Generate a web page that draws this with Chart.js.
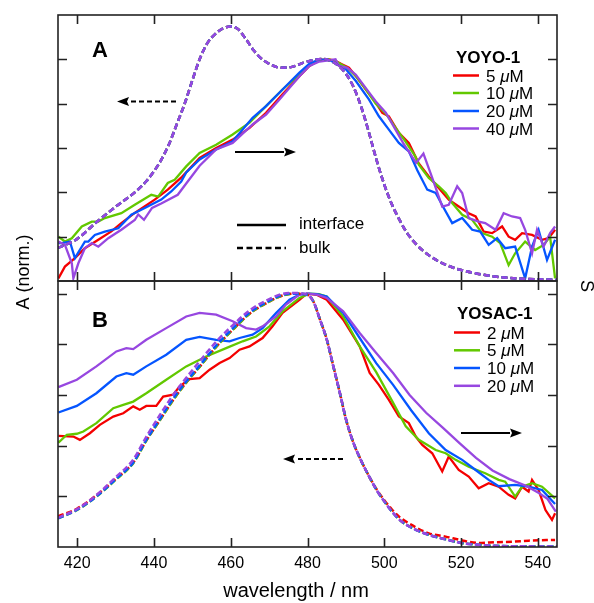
<!DOCTYPE html>
<html>
<head>
<meta charset="utf-8">
<script src="https://cdn.jsdelivr.net/npm/chart.js@4.4.0/dist/chart.umd.min.js"></script>
<style>
html, body { margin: 0; padding: 0; background: #fff; }
#wrap { position: relative; width: 594px; height: 603px; }
#wrap canvas { position: absolute; left: 0; top: 0; }
</style>
</head>
<body>
<div id="wrap">
  <canvas id="panelA" width="594" height="603"></canvas>
  <canvas id="panelB" width="594" height="603"></canvas>
</div>
<script>
// Interface (solid) vs bulk (dashed) normalised spectra, YOYO-1 (A) and YOSAC-1 (B)

const xTicks = [420, 440, 460, 480, 500, 520, 540];
const yTicks = [0.2, 0.4, 0.6, 0.8, 1.0];

const concA = ["5", "10", "20", "40"];
const concB = ["2", "5", "10", "20"];

// panel A, bulk absorbance (all four concentrations overlap)
const bulkA = [[415,0.149],[420,0.19],[425,0.265],[430,0.335],[435,0.40],[438,0.45],[440,0.495],[442,0.55],[444,0.62],[446,0.71],[448,0.80],[450,0.905],[452,1.005],[454,1.075],[456,1.115],[458,1.14],[460,1.148],[462,1.135],[464,1.09],[466,1.04],[468,1.003],[470,0.98],[473,0.962],[476,0.966],[479,0.985],[482,0.998],[484,1.002],[486,0.993],[488,0.972],[490,0.935],[492,0.875],[494,0.785],[496,0.67],[498,0.545],[500,0.435],[502,0.345],[504,0.275],[506,0.215],[508,0.172],[510,0.138],[514,0.09],[518,0.06],[524,0.034],[530,0.018],[536,0.01],[545,0.005]];

// panel A, interface spectra
const ifaceA5 = [[415.1,0.012],[416.8,0.065],[419.4,0.103],[422.0,0.148],[425.5,0.186],[428.9,0.224],[431.5,0.261],[435.0,0.307],[440.2,0.367],[443.6,0.412],[447.3,0.47],[451.9,0.555],[456.2,0.600],[460.5,0.638],[464.9,0.691],[469.2,0.759],[473.5,0.842],[477.9,0.924],[480.5,0.970],[483.1,0.997],[485.5,1.0],[487.0,0.995],[489.1,0.977],[490.8,0.962],[492.6,0.924],[495.2,0.864],[497.8,0.804],[499.5,0.759],[501.2,0.743],[503.8,0.668],[506.4,0.623],[509.0,0.53],[511.6,0.472],[514.2,0.419],[516.8,0.367],[519.4,0.336],[522.0,0.306],[523.8,0.291],[525.9,0.223],[528.1,0.216],[530.7,0.246],[532.4,0.200],[534.1,0.186],[535.9,0.216],[538.5,0.208],[541.1,0.186],[542.8,0.193],[544.5,0.231]];
const ifaceA10 = [[415.1,0.200],[416.8,0.178],[418.6,0.193],[421.2,0.246],[423.8,0.268],[425.5,0.268],[427.2,0.284],[431.5,0.306],[435.0,0.344],[439.3,0.389],[441.1,0.381],[443.6,0.442],[445.4,0.457],[448.4,0.517],[451.9,0.578],[456.2,0.615],[460.5,0.661],[464.9,0.714],[469.2,0.789],[473.5,0.864],[477.9,0.932],[480.5,0.975],[483.1,0.995],[485.5,1.0],[487.5,0.99],[490.0,0.965],[492.6,0.925],[495.2,0.865],[497.8,0.80],[500.4,0.755],[503.0,0.69],[505.5,0.63],[508.0,0.565],[509.0,0.525],[511.6,0.465],[514.2,0.427],[516.0,0.397],[517.7,0.352],[520.3,0.299],[522.9,0.276],[525.5,0.216],[528.1,0.200],[530.2,0.171],[532.4,0.072],[534.1,0.125],[536.7,0.178],[539.3,0.140],[541.5,0.163],[543.2,0.200],[544.5,0.012]];
const ifaceA20 = [[415.1,0.171],[416.0,0.171],[418.1,0.178],[419.4,0.103],[422.0,0.178],[422.9,0.178],[424.6,0.208],[427.2,0.223],[430.7,0.238],[434.1,0.299],[437.6,0.329],[441.9,0.367],[444.5,0.404],[447.1,0.449],[448.4,0.49],[451.9,0.548],[456.2,0.593],[460.5,0.630],[465.7,0.736],[469.2,0.789],[473.5,0.864],[477.9,0.940],[480.5,0.98],[483.0,1.0],[486.0,0.995],[488.0,0.975],[490.0,0.955],[492.6,0.902],[496.0,0.819],[498.6,0.743],[501.2,0.683],[503.8,0.623],[506.4,0.585],[508.6,0.50],[511.2,0.412],[513.4,0.397],[515.5,0.329],[517.7,0.261],[520.3,0.284],[522.9,0.231],[525.0,0.223],[527.2,0.163],[529.4,0.193],[531.5,0.148],[534.1,0.155],[536.7,0.012],[538.5,0.155],[540.2,0.231],[542.4,0.095],[544.5,0.186]];
const ifaceA40 = [[415.1,0.178],[416.8,0.163],[418.6,0.080],[419.0,0.012],[420.3,0.080],[422.0,0.148],[423.8,0.171],[425.5,0.155],[428.1,0.193],[431.5,0.231],[435.0,0.275],[435.9,0.300],[437.4,0.276],[439.5,0.33],[441.9,0.350],[446.2,0.389],[448.4,0.44],[451.9,0.52],[456.2,0.593],[460.5,0.623],[465.7,0.706],[469.2,0.751],[472.7,0.819],[477.9,0.924],[480.5,0.97],[483.1,0.99],[485.5,0.995],[487.3,1.0],[488.2,0.970],[490.4,0.962],[492.6,0.93],[495.2,0.87],[497.8,0.81],[500.4,0.759],[504.9,0.623],[508.3,0.533],[510.2,0.575],[512.5,0.465],[515.1,0.336],[516.8,0.344],[519.0,0.427],[520.3,0.397],[522.0,0.284],[524.6,0.268],[526.3,0.261],[529.0,0.231],[531.1,0.306],[533.3,0.291],[535.4,0.284],[536.7,0.231],[538.5,0.125],[539.8,0.231],[541.5,0.155],[543.2,0.216],[544.5,0.246]];

// panel B, bulk absorbance
const bulkB2 = [[415,0.121],[420,0.152],[425,0.204],[430,0.268],[434.6,0.333],[438,0.42],[441.5,0.50],[445,0.58],[447.6,0.634],[452,0.713],[456.2,0.79],[460.5,0.857],[465,0.922],[469.2,0.962],[473.5,0.993],[477,1.0],[480,0.995],[481.5,0.97],[483.2,0.90],[485,0.82],[486.7,0.715],[488.4,0.61],[490.1,0.50],[492,0.41],[494,0.34],[496,0.28],[498,0.228],[500,0.185],[502,0.148],[504,0.118],[507,0.088],[511.6,0.054],[516,0.041],[520.3,0.026],[524.6,0.016],[529,0.019],[533.3,0.021],[537.6,0.025],[544.5,0.028]];
const bulkB5 = [[415,0.113],[420,0.146],[425,0.199],[430,0.265],[434.6,0.331],[438,0.42],[441.5,0.50],[445,0.58],[447.6,0.634],[452,0.713],[456.2,0.79],[460.5,0.857],[465,0.922],[469.2,0.962],[473.5,0.993],[477,1.0],[480,0.995],[481.5,0.97],[483.2,0.90],[485,0.82],[486.7,0.715],[488.4,0.61],[490.1,0.50],[492,0.41],[494,0.34],[496,0.28],[498,0.225],[500,0.18],[502,0.14],[504,0.107],[507,0.077],[511.6,0.048],[516,0.03],[520,0.016],[525,0.008],[530,0.004],[545,0.002]];
const bulkB10 = [[415,0.113],[420,0.147],[425,0.200],[430,0.267],[434.6,0.334],[438,0.423],[441.5,0.504],[445,0.585],[447.6,0.638],[452,0.718],[456.2,0.795],[460.5,0.862],[465,0.926],[469.2,0.965],[473.5,0.995],[477,1.0],[480,0.995],[481.5,0.97],[483.2,0.90],[485,0.82],[486.7,0.715],[488.4,0.61],[490.1,0.50],[492,0.41],[494,0.34],[496,0.28],[498,0.225],[500,0.18],[502,0.14],[504,0.107],[507,0.077],[511.6,0.048],[516,0.03],[520,0.016],[525,0.008],[530,0.004],[545,0.002]];
const bulkB20 = [[415,0.115],[420,0.15],[425,0.205],[430,0.275],[434.6,0.345],[438,0.435],[441.5,0.52],[445,0.60],[448,0.66],[452,0.735],[456.2,0.81],[460.5,0.875],[465,0.935],[469.2,0.972],[473,0.997],[476.5,1.003],[479.5,0.998],[481.5,0.97],[483.2,0.90],[485,0.82],[486.7,0.715],[488.4,0.61],[490.1,0.50],[492,0.41],[494,0.34],[496,0.28],[498,0.225],[500,0.18],[502,0.14],[504,0.107],[507,0.077],[511.6,0.048],[516,0.03],[520,0.016],[525,0.008],[530,0.004],[545,0.002]];

// panel B, interface spectra
const ifaceB2 = [[415.1,0.439],[419.0,0.436],[420.7,0.423],[423.3,0.449],[425.9,0.482],[429.4,0.515],[432.0,0.528],[434.6,0.555],[436.3,0.542],[438.0,0.557],[440.6,0.557],[442.4,0.594],[445.0,0.601],[446.7,0.634],[449.3,0.663],[451.9,0.667],[454.5,0.700],[457.1,0.726],[459.7,0.746],[462.3,0.779],[464.9,0.792],[468.3,0.825],[470.9,0.871],[473.5,0.924],[477.9,0.976],[479.8,1.0],[482.5,0.995],[485.0,0.976],[489.3,0.897],[493.6,0.792],[496.2,0.687],[498.6,0.640],[501.2,0.581],[503.8,0.515],[506.4,0.489],[508.2,0.436],[509.9,0.403],[512.5,0.370],[515.1,0.298],[516.8,0.357],[519.4,0.304],[522.0,0.278],[524.6,0.232],[527.2,0.252],[529.8,0.238],[532.4,0.206],[534.1,0.192],[535.9,0.238],[537.6,0.219],[538.5,0.265],[540.2,0.225],[542.0,0.146],[543.7,0.107],[544.5,0.133]];
const ifaceB5 = [[415.1,0.412],[417.3,0.443],[419.9,0.447],[421.6,0.456],[425.0,0.489],[429.4,0.548],[432.0,0.561],[434.6,0.574],[438.0,0.607],[443.2,0.660],[448.4,0.713],[453.6,0.752],[458.8,0.785],[463.1,0.812],[466.6,0.831],[470.1,0.871],[473.5,0.930],[477.9,0.983],[480.5,1.0],[483.0,0.998],[485.0,0.989],[489.3,0.910],[493.6,0.792],[497.9,0.69],[502.1,0.575],[505.6,0.476],[509.0,0.423],[513.4,0.383],[516.0,0.370],[518.6,0.344],[522.0,0.317],[526.3,0.291],[529.8,0.265],[531.5,0.258],[534.1,0.199],[535.9,0.238],[538.5,0.252],[541.1,0.238],[544.5,0.192]];
const ifaceB10 = [[415.1,0.531],[419.9,0.557],[425.0,0.607],[430.2,0.673],[432.8,0.686],[434.6,0.680],[438.0,0.713],[443.2,0.759],[448.4,0.818],[451.9,0.829],[456.2,0.818],[459.7,0.812],[462.3,0.825],[465.7,0.838],[468.3,0.864],[471.8,0.924],[475.3,0.976],[477.9,0.996],[480.0,1.0],[482.5,0.998],[485.0,0.989],[489.3,0.924],[493.6,0.825],[497.9,0.726],[502.3,0.640],[507.0,0.54],[511.6,0.449],[516.0,0.383],[520.3,0.344],[523.8,0.304],[527.2,0.265],[529.8,0.240],[534.1,0.245],[537.6,0.238],[541.1,0.225],[544.5,0.170]];
const ifaceB20 = [[415.1,0.631],[419.9,0.660],[425.0,0.713],[430.2,0.772],[432.8,0.785],[434.6,0.781],[438.0,0.818],[443.2,0.864],[448.4,0.910],[451.9,0.924],[456.2,0.917],[460.5,0.891],[464.0,0.864],[466.6,0.858],[468.3,0.871],[471.8,0.910],[474.4,0.957],[477.9,0.996],[480.0,1.0],[482.5,0.996],[485.0,0.983],[489.3,0.930],[493.6,0.845],[497.9,0.766],[502.3,0.687],[506.6,0.60],[510.9,0.530],[515.3,0.470],[519.6,0.410],[523.9,0.352],[528.2,0.302],[532.6,0.268],[536.9,0.242],[540.4,0.212],[542.5,0.19],[544.7,0.140]];

const colors = ["#f40000", "#62c800", "#0555ff", "#9747e0"];
const FONT = '"Liberation Sans", Arial, Helvetica, sans-serif';
const TICK = 9;

function series(pts, color, dashed) {
    return {
        data: pts.map(function (p) { return { x: p[0], y: p[1] }; }),
        borderColor: color,
        borderWidth: dashed ? 2.5 : 2.3,
        borderDash: dashed ? [6, 3] : [],
        pointRadius: 0,
        fill: false,
        tension: 0,
        cubicInterpolationMode: dashed ? "monotone" : "default"
    };
}

// first dataset is drawn on top in Chart.js, so list purple first
function buildDatasets(bulk, iface) {
    var out = [];
    for (var i = 3; i >= 0; i--) out.push(series(bulk[i], colors[i], true));
    for (var j = 3; j >= 0; j--) out.push(series(iface[j], colors[j], false));
    return out;
}

function arrow(ctx, x1, y, x2, dashed) {
    var dir = x2 > x1 ? 1 : -1;
    var head = 12;
    ctx.save();
    ctx.strokeStyle = "#000";
    ctx.fillStyle = "#000";
    ctx.lineWidth = 2;
    ctx.setLineDash(dashed ? [5, 3] : []);
    ctx.beginPath();
    ctx.moveTo(x1, y);
    ctx.lineTo(x2 - dir * head, y);
    ctx.stroke();
    ctx.setLineDash([]);
    ctx.beginPath();
    ctx.moveTo(x2, y);
    ctx.lineTo(x2 - dir * head, y - 4.5);
    ctx.lineTo(x2 - dir * (head - 2), y);
    ctx.lineTo(x2 - dir * head, y + 4.5);
    ctx.closePath();
    ctx.fill();
    ctx.restore();
}

function legendBlock(ctx, title, concs, x, titleY, rows, textX) {
    ctx.save();
    ctx.fillStyle = "#000";
    ctx.textBaseline = "alphabetic";
    ctx.font = "bold 17px " + FONT;
    ctx.fillText(title, x + 3, titleY);
    concs.forEach(function (c, i) {
        var y = rows[i];
        ctx.strokeStyle = colors[i];
        ctx.lineWidth = 2.5;
        ctx.beginPath();
        ctx.moveTo(x, y);
        ctx.lineTo(x + 26, y);
        ctx.stroke();
        var tx = textX;
        ctx.font = "17px " + FONT;
        ctx.fillText(c + " ", tx, y + 6);
        tx += ctx.measureText(c + " ").width;
        ctx.font = "italic 17px " + FONT;
        ctx.fillText("\u03bc", tx, y + 6);
        tx += ctx.measureText("\u03bc").width;
        ctx.font = "17px " + FONT;
        ctx.fillText("M", tx, y + 6);
    });
    ctx.restore();
}

function drawFrame(chart) {
    var ctx = chart.ctx, a = chart.chartArea;
    var xs = chart.scales.x, ys = chart.scales.y;
    ctx.save();
    ctx.strokeStyle = "#222";
    ctx.lineWidth = 1.6;
    ctx.strokeRect(a.left, a.top, a.right - a.left, a.bottom - a.top);
    ctx.beginPath();
    xTicks.forEach(function (v) {
        var px = Math.round(xs.getPixelForValue(v)) + 0.5;
        ctx.moveTo(px, a.top); ctx.lineTo(px, a.top + TICK);
        ctx.moveTo(px, a.bottom); ctx.lineTo(px, a.bottom - TICK);
    });
    yTicks.forEach(function (v) {
        var py = Math.round(ys.getPixelForValue(v)) + 0.5;
        ctx.moveTo(a.left, py); ctx.lineTo(a.left + TICK, py);
        ctx.moveTo(a.right, py); ctx.lineTo(a.right - TICK, py);
    });
    ctx.stroke();
    ctx.restore();
}

const panelAPlugin = {
    id: "panelA",
    afterDraw: function (chart) {
        var ctx = chart.ctx;
        drawFrame(chart);
        ctx.save();
        ctx.fillStyle = "#000";
        ctx.font = "bold 22px " + FONT;
        ctx.fillText("A", 92, 57);
        ctx.restore();
        arrow(ctx, 176, 101.5, 117, true);
        arrow(ctx, 235, 152, 296, false);
        // line style key
        ctx.save();
        ctx.strokeStyle = "#000";
        ctx.lineWidth = 2.5;
        ctx.beginPath(); ctx.moveTo(237, 225); ctx.lineTo(286, 225); ctx.stroke();
        ctx.setLineDash([6, 3.5]);
        ctx.beginPath(); ctx.moveTo(237, 248); ctx.lineTo(286, 248); ctx.stroke();
        ctx.setLineDash([]);
        ctx.fillStyle = "#000";
        ctx.font = "17px " + FONT;
        ctx.fillText("interface", 299, 229);
        ctx.fillText("bulk", 299, 253);
        ctx.restore();
        legendBlock(ctx, "YOYO-1", concA, 453, 63, [75.5, 93, 111, 128.5], 486);
    }
};

const panelBPlugin = {
    id: "panelB",
    afterDraw: function (chart) {
        var ctx = chart.ctx, xs = chart.scales.x;
        drawFrame(chart);
        ctx.save();
        ctx.fillStyle = "#000";
        ctx.font = "bold 22px " + FONT;
        ctx.fillText("B", 92, 327);
        // x tick labels and titles
        ctx.font = "16px " + FONT;
        ctx.textAlign = "center";
        xTicks.forEach(function (v) {
            ctx.fillText(String(v), xs.getPixelForValue(v), 568);
        });
        ctx.font = "20px " + FONT;
        ctx.fillText("wavelength / nm", 296, 597);
        ctx.textBaseline = "middle";
        ctx.font = "18px " + FONT;
        ctx.save();
        ctx.translate(24, 272);
        ctx.rotate(-Math.PI / 2);
        ctx.fillText("A (norm.)", 0, 0);
        ctx.restore();
        ctx.save();
        ctx.translate(586, 286);
        ctx.rotate(Math.PI / 2);
        ctx.fillText("S", 0, 0);
        ctx.restore();
        ctx.restore();
        arrow(ctx, 343, 459, 283, true);
        arrow(ctx, 461, 433, 522, false);
        legendBlock(ctx, "YOSAC-1", concB, 454, 319, [332.5, 350.3, 368, 385.8], 487);
    }
};

function makeChart(id, bulk, iface, yMax, pad, plugin) {
    return new Chart(document.getElementById(id).getContext("2d"), {
        type: "line",
        data: { datasets: buildDatasets(bulk, iface) },
        options: {
            responsive: false,
            animation: false,
            devicePixelRatio: 1,
            events: [],
            layout: { padding: pad },
            scales: {
                x: { type: "linear", min: 415, max: 545, display: false },
                y: { type: "linear", min: 0, max: yMax, display: false }
            },
            plugins: { legend: { display: false }, tooltip: { enabled: false } }
        },
        plugins: [plugin]
    });
}

makeChart("panelA", [bulkA, bulkA, bulkA, bulkA], [ifaceA5, ifaceA10, ifaceA20, ifaceA40],
    1.2, { left: 58, right: 37, top: 15, bottom: 322 }, panelAPlugin);
makeChart("panelB", [bulkB2, bulkB5, bulkB10, bulkB20], [ifaceB2, ifaceB5, ifaceB10, ifaceB20],
    1.05, { left: 58, right: 37, top: 281, bottom: 56 }, panelBPlugin);
</script>
</body>
</html>
